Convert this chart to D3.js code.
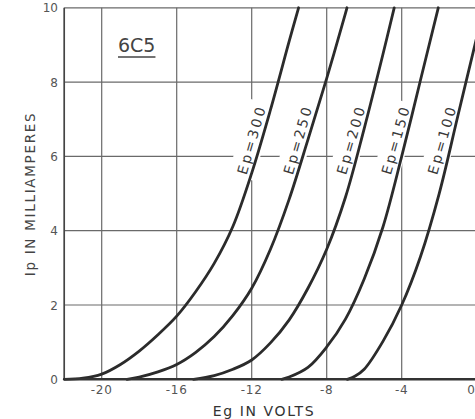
<!DOCTYPE html>
<html><head><meta charset="utf-8">
<script src="https://cdn.jsdelivr.net/npm/d3@7"></script>
<style>
html,body{margin:0;padding:0;background:#fff;}
svg{display:block;}
text{font-family:"DejaVu Sans",sans-serif;}
</style></head><body>
<svg id="chart" width="475" height="419"></svg>
<script>
// ---- data ----
const tubeName = "6C5";
const xTicks = [-20, -16, -12, -8, -4, 0];
const yTicks = [0, 2, 4, 6, 8, 10];
const xTitle = "Eg IN VOLTS";
const yTitle = "Ip IN MILLIAMPERES";
const seriesNames = ["Ep=300", "Ep=250", "Ep=200", "Ep=150", "Ep=100"];
// [grid volts Eg, plate current mA]
const ep300 = [[-22,0],[-21,0.03],[-20,0.14],[-19,0.4],[-18,0.76],[-17,1.2],[-16,1.7],[-15,2.35],[-14,3.12],[-13,4.12],[-12,5.55],[-11,7.25],[-10,9.1],[-9.5,10]];
const ep250 = [[-18.65,0],[-18,0.06],[-17,0.2],[-16,0.4],[-15,0.72],[-14,1.15],[-13,1.72],[-12,2.45],[-11,3.5],[-10,4.85],[-9,6.45],[-8,8.1],[-7,9.85],[-6.92,10]];
const ep200 = [[-15.1,0],[-14,0.1],[-13,0.27],[-12,0.52],[-11,0.98],[-10,1.6],[-9,2.45],[-8,3.5],[-7,4.9],[-6,6.75],[-5,8.75],[-4.4,10]];
const ep150 = [[-10.4,0],[-10,0.06],[-9,0.32],[-8,0.87],[-7,1.62],[-6,2.7],[-5,4.1],[-4,6.0],[-3,8.05],[-2.05,10]];
const ep100 = [[-6.9,0],[-6.5,0.08],[-6,0.27],[-5,1.02],[-4,2.0],[-3,3.3],[-2,5.0],[-1,7.1],[0,9.2],[0.4,10]];
const seriesData = [ep300, ep250, ep200, ep150, ep100];
const labelCurrent = 6.45; // label sits beside each curve at this current

// ---- drawing ----
const svg = d3.select("#chart");
const x = d3.scaleLinear().domain([-22, 0]).range([64.2, 476.7]);
const y = d3.scaleLinear().domain([0, 10]).range([379.3, 7.8]);
const gridColor = "#6a6a6a";

const grid = svg.append("g");
grid.selectAll("line.h").data(yTicks.filter(d => d > 0)).enter().append("line")
  .attr("x1", x(-22)).attr("x2", 475).attr("y1", d => y(d)).attr("y2", d => y(d))
  .attr("stroke", gridColor).attr("stroke-width", 1.2);
grid.selectAll("line.v").data(xTicks).enter().append("line")
  .attr("x1", d => x(d)).attr("x2", d => x(d)).attr("y1", y(0)).attr("y2", y(10))
  .attr("stroke", gridColor).attr("stroke-width", 1.2);
svg.append("line").attr("x1", x(-22)).attr("x2", x(-22)).attr("y1", y(0)).attr("y2", y(10))
  .attr("stroke", "#444").attr("stroke-width", 1.7);

// tick labels
svg.append("g").selectAll("text").data(yTicks).enter().append("text")
  .attr("x", 58).attr("y", d => y(d) + 4.5).attr("text-anchor", "end")
  .attr("font-size", 12).attr("fill", "#555").text(d => d);
svg.append("g").selectAll("text").data(xTicks).enter().append("text")
  .attr("x", d => d === 0 ? 475 : x(d)).attr("y", 394)
  .attr("text-anchor", d => d === 0 ? "end" : "middle")
  .attr("font-size", 12).attr("letter-spacing", d => d === 0 ? 0 : 0.8).attr("fill", "#555").text(d => d);

// titles
svg.append("text").attr("x", 264).attr("y", 416).attr("text-anchor", "middle")
  .attr("font-size", 14).attr("letter-spacing", 1.6).attr("fill", "#333").text(xTitle);
svg.append("text").attr("transform", "translate(35,194) rotate(-90)").attr("text-anchor", "middle")
  .attr("font-size", 13.5).attr("letter-spacing", 1.7).attr("fill", "#444").text(yTitle);

// tube name
const tn = svg.append("text").attr("x", 118).attr("y", 52).attr("font-size", 19)
  .attr("fill", "#444").text(tubeName);
const tb = tn.node().getBBox();
svg.append("line").attr("x1", tb.x).attr("x2", tb.x + tb.width).attr("y1", 57).attr("y2", 57)
  .attr("stroke", "#444").attr("stroke-width", 1.6);

function egAt(series, ip) {
  for (let i = 1; i < series.length; i++) {
    const [e0, i0] = series[i-1], [e1, i1] = series[i];
    if (ip >= i0 && ip <= i1) return e0 + (e1 - e0) * (ip - i0) / (i1 - i0);
  }
  return series[series.length-1][0];
}

// curve labels with white background (breaks grid)
const labels = svg.append("g");
seriesData.forEach((s, k) => {
  const cx = x(egAt(s, labelCurrent)) - 10;
  const cy = y(labelCurrent);
  const g = labels.append("g").attr("transform", `translate(${cx},${cy}) rotate(-74)`);
  const rect = g.append("rect").attr("fill", "#fff");
  const t = g.append("text").attr("text-anchor", "middle").attr("dominant-baseline", "central")
    .attr("font-size", 14).attr("letter-spacing", 2.6).attr("fill", "#3a3a3a").text(seriesNames[k]);
  const b = t.node().getBBox();
  rect.attr("x", b.x - 3).attr("y", b.y - 5).attr("width", b.width + 6).attr("height", b.height + 10);
});

// curves
const line = d3.line().x(d => x(d[0])).y(d => y(d[1])).curve(d3.curveCatmullRom.alpha(0.5));
svg.append("g").selectAll("path").data(seriesData).enter().append("path")
  .attr("d", line).attr("fill", "none").attr("stroke", "#2b2b2b").attr("stroke-width", 2.8)
  .attr("stroke-linecap", "round");

// bottom axis line
svg.append("line").attr("x1", x(-22)).attr("x2", 475).attr("y1", y(0)).attr("y2", y(0))
  .attr("stroke", "#333").attr("stroke-width", 2.4);
</script>
</body></html>
